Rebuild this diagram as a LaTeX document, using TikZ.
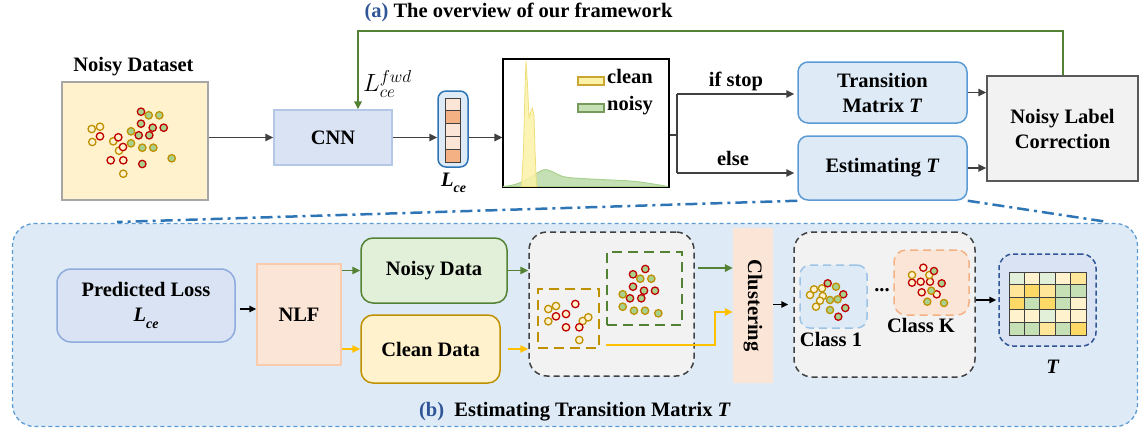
\documentclass[tikz,border=0pt]{standalone}
\usepackage{fontspec}
\setmainfont{Liberation Serif}
\usetikzlibrary{arrows.meta,calc}
\definecolor{cYellowL}{HTML}{FFF2CC}
\definecolor{cGold}{HTML}{BF9000}
\definecolor{cRed}{HTML}{C00000}
\definecolor{cGreenD}{HTML}{A9D18E}
\definecolor{cGreenM}{HTML}{C5E0B4}
\definecolor{cGreenL}{HTML}{E2F0D9}
\definecolor{cYellowM}{HTML}{FFE699}
\definecolor{cYellowD}{HTML}{FFD966}
\definecolor{cBlueL}{HTML}{DEEBF7}
\definecolor{cBlueG}{HTML}{DAE3F3}
\definecolor{cBlueB}{HTML}{5B9BD5}
\definecolor{cBlueD}{HTML}{2F5597}
\definecolor{cBlueM}{HTML}{2E75B6}
\definecolor{cBlueP}{HTML}{B4C7E7}
\definecolor{cBlueQ}{HTML}{8FAADC}
\definecolor{cBlueR}{HTML}{9DC3E6}
\definecolor{cOrangeL}{HTML}{FBE5D6}
\definecolor{cOrangeM}{HTML}{F8CBAD}
\definecolor{cOrangeD}{HTML}{F4B183}
\definecolor{cDark}{HTML}{404040}
\definecolor{cGrayD}{HTML}{595959}
\definecolor{cGrayM}{HTML}{A6A6A6}
\definecolor{cGray}{HTML}{F2F2F2}
\definecolor{cGreenDk}{HTML}{548235}
\definecolor{cAmber}{HTML}{FFC000}
\definecolor{cSpike}{HTML}{FBF2A8}
\definecolor{cSpikeB}{HTML}{EDE07A}
\definecolor{cLab}{HTML}{2F5597}
\newcommand\Lce{\textit{L}\raisebox{-0.3em}{\fontsize{14}{14}\selectfont\textit{ce}}}
\tikzset{
  every node/.style={font=\fontsize{20.5}{25}\selectfont\bfseries, inner sep=0pt, align=center},
  arr/.style={draw=cDark, line width=1.5pt, -{Triangle[length=8pt,width=7.5pt]}},
  garr/.style={draw=cGreenDk, line width=1.5pt, -{Triangle[length=8pt,width=7.5pt]}},
  yarr/.style={draw=cAmber, line width=1.5pt, -{Triangle[length=8pt,width=7.5pt]}},
  barr/.style={draw=black, line width=1.5pt, -{Triangle[length=7pt,width=6.5pt]}},
  dashdotline/.style={draw=cBlueM, line width=2.5pt, dash pattern=on 12pt off 5pt on 3pt off 5pt},
  yh/.style={fill=cYellowL, draw=cGold, line width=1.3pt},
  rh/.style={fill=cYellowL, draw=cRed, line width=1.3pt},
  gr/.style={fill=cGreenD, draw=cRed, line width=1.3pt},
  gy/.style={fill=cGreenD, draw=cGold, line width=1.3pt},
}
\begin{document}
\begin{tikzpicture}[x=1pt,y=-1pt]
\useasboundingbox (0,0) rectangle (1140,429);

% ---------- big bottom container ----------
\node[draw=cBlueB, fill=cBlueL, line width=1.3pt, dash pattern=on 4pt off 3pt, rounded corners=22pt,
      minimum width=1125pt, minimum height=203pt] (bb) at (575,325) {};

% ---------- title ----------
\node[anchor=base] (ttl) at (518.5,17) {\textcolor{cLab}{(a)} The overview of our framework};

% ---------- top row ----------
\node[anchor=base] (ndlab) at (133.5,71.5) {Noisy Dataset};
\node[fill=cYellowL, draw=cGrayM, line width=2pt, minimum width=146pt, minimum height=118pt] (nd) at (135,141) {};
\node[fill=cBlueG, draw=cBlueP, line width=1.5pt, minimum width=118pt, minimum height=55pt] (cnn) at (333,137.5) {CNN};
\node[fill=cBlueL, draw=cBlueM, line width=1.5pt, rounded corners=8pt, minimum width=30pt, minimum height=76pt] (lvec) at (453,129) {};
\foreach \c [count=\i] in {cOrangeL,cOrangeD,cOrangeL,cOrangeL,cOrangeD}
  \filldraw[fill=\c, draw=cDark, line width=1pt] (445,{98+(\i-1)*12.8}) rectangle ++(15,12.8);
\node[anchor=base] (lcelab) at (453.5,186.5) {\Lce};
\node[draw=black, line width=1.2pt, minimum width=166pt, minimum height=128pt] (plot) at (586,123) {};

% distributions
\filldraw[fill=cGreenM, draw=cGreenD, line width=1pt]
  plot[smooth, tension=0.6] coordinates {(503,186.5) (515,184.5) (528,179) (543,170) (553,172) (565,177) (590,179) (630,181) (650,183.5) (668,186.5)} -- cycle;
\filldraw[fill=cSpike, draw=cSpikeB, line width=0.8pt, fill opacity=0.85]
  (521.5,186.5) -- (523.5,150) -- (525,90) -- (526,61) -- (527.5,85) -- (529,117) -- (531,111) -- (532.5,108) -- (534,116) -- (535,150) -- (536.5,186.5) -- cycle;
\draw[black, line width=1.2pt] (plot.south west) -- (plot.south east);
% legend
\filldraw[fill=cSpike, draw=cGold!80, line width=1.3pt] (578,77) rectangle (604,85);
\filldraw[fill=cGreenM, draw=cGreenDk!80, line width=1.3pt] (578,104) rectangle (604,112);
\node[anchor=base west] (lgc) at (607,83.3) {clean};
\node[anchor=base west] (lgn) at (607,110) {noisy};

\node[fill=cBlueL, draw=cBlueB, line width=1.5pt, rounded corners=10pt, minimum width=169pt, minimum height=61pt] (tm) at (882.5,92.5) {Transition\\Matrix \textit{T}};
\node[fill=cBlueL, draw=cBlueB, line width=1.5pt, rounded corners=10pt, minimum width=169pt, minimum height=64pt] (est) at (882.5,168) {Estimating \textit{T}};
\node[fill=cGray, draw=cGrayD, line width=1.5pt, minimum width=151pt, minimum height=105pt] (nlc) at (1062.5,128.5) {Noisy Label\\Correction};

\node[anchor=base] (ifs) at (736,86) {if stop};
\node[anchor=base] (els) at (733,165) {else};
\node[anchor=base west, font=\fontsize{23}{23}\selectfont] (lfwd) at (363,91.5) {$L_{ce}^{fwd}$};

% top connectors
\draw[arr] (nd.east |- cnn.west) -- (cnn.west);
\draw[arr] (cnn.east) -- (lvec.west |- cnn.east);
\draw[arr] (lvec.east |- cnn.east) -- (plot.west |- cnn.east);
\coordinate (br) at (677,135);
\coordinate (brT) at (677,94);
\coordinate (brB) at (677,173);
\draw[draw=cDark, line width=1.5pt] (plot.east |- br) -- (br);
\draw[draw=cDark, line width=1.5pt] (brT) -- (brB);
\draw[arr] (brT) -- ($(tm.west |- brT)+(-3,0)$);
\draw[arr] (brB) -- ($(est.west |- brB)+(-3,0)$);
\draw[arr] (tm.east) -- (nlc.west |- tm.east);
\draw[arr] (est.east) -- (nlc.west |- est.east);
\draw[draw=cGreenDk, line width=2pt, -{Triangle[length=8pt,width=7.5pt]}]
  (nlc.north) |- ($(cnn.north)+(25,-78)$) -- ($(cnn.north)+(25,0)$);

% dash-dot zoom lines
\coordinate (ddL) at (117,222);
\coordinate (ddR) at (1108,222);
\draw[dashdotline] (est.south west) -- (ddL);
\draw[dashdotline] (est.south east) -- (ddR);

% dataset points
\foreach \x/\y in {91.7/129,100/126.7,92.3/142,113.3/141.3,119/150.7,123.3/173.7} \filldraw[yh] (\x,\y) circle (3.7);
\foreach \x/\y in {100/136.3,118.3/137.3,123/147,110.7/160.3,123.3/160.3} \filldraw[rh] (\x,\y) circle (3.7);
\foreach \x/\y in {141/111.7,141/123.7,152.7/127.7,163.7/127.7,138.7/135.3,149.3/135.3,142.3/164} \filldraw[gr] (\x,\y) circle (3.7);
\foreach \x/\y in {148.7/115.3,159.3/115.3,131/131.3,131/143.3,142.3/147.7,153.3/147.7,171.7/158.3} \filldraw[gy] (\x,\y) circle (3.7);

% ---------- bottom row ----------
\node[fill=cBlueG, draw=cBlueQ, line width=1.5pt, rounded corners=14pt, minimum width=178pt, minimum height=73pt] (pl) at (146,305.5) {Predicted Loss\\\Lce};
\node[fill=cOrangeL, draw=cOrangeM, line width=1.5pt, minimum width=84pt, minimum height=101pt] (nlf) at (299,314.5) {NLF};
\node[fill=cGreenL, draw=cGreenDk, line width=1.5pt, rounded corners=12pt, minimum width=146pt, minimum height=65pt] (noisyd) at (434,270.5) {Noisy Data};
\node[fill=cYellowL, draw=cGold, line width=1.5pt, rounded corners=12pt, minimum width=139pt, minimum height=68pt] (cleand) at (430.5,349) {Clean Data};
\node[fill=cGray, draw=cDark, line width=1.5pt, dash pattern=on 6pt off 4pt, rounded corners=18pt, minimum width=165pt, minimum height=144pt] (sc) at (611.5,304) {};
\node[draw=cGreenDk, line width=2pt, dash pattern=on 10pt off 6pt, minimum width=75pt, minimum height=73pt] (gbox) at (644.5,288.5) {};
\node[draw=cGold, line width=2pt, dash pattern=on 10pt off 6pt, minimum width=61pt, minimum height=59pt] (ybox) at (568.5,318.5) {};
\node[fill=cOrangeL, minimum width=40pt, minimum height=155pt] (clu) at (753,305.5) {\rotatebox{-90}{Clustering}};
\node[fill=cGray, draw=cDark, line width=1.5pt, dash pattern=on 6pt off 4pt, rounded corners=18pt, minimum width=181pt, minimum height=145pt] (cls) at (884.5,304.5) {};
\node[fill=cBlueL, draw=cBlueR, line width=1.5pt, dash pattern=on 8pt off 5pt, rounded corners=10pt, minimum width=67pt, minimum height=63pt] (c1) at (833.5,296.5) {};
\node[fill=cOrangeL, draw=cOrangeD, line width=1.5pt, dash pattern=on 8pt off 5pt, rounded corners=12pt, minimum width=75pt, minimum height=65pt] (ck) at (931.5,282.5) {};
\node[fill=cBlueG, draw=cBlueD, line width=1.5pt, dash pattern=on 5pt off 3pt, rounded corners=14pt, minimum width=97pt, minimum height=92pt] (tmat) at (1047.5,300) {};

\node[anchor=base] (c1lab) at (831,346.5) {Class 1};
\node[anchor=base] (cklab) at (921,332.5) {Class K};
\node[anchor=base] (dots) at (882,291) {...};
\node[anchor=base] (tlab) at (1053,373) {\textit{T}};
\node[anchor=base] (btl) at (575,416) {\textcolor{cLab}{(b)}\enspace Estimating Transition Matrix \textit{T}};

% matrix grid
\foreach \rowc [count=\r] in {{cGreenL,cYellowL,cGreenL,cYellowL,cYellowM},{cYellowM,cYellowD,cYellowM,cGreenM,cGreenM},{cYellowD,cGreenM,cYellowD,cGreenM,cYellowL},{cYellowL,cYellowL,cGreenL,cYellowL,cYellowL},{cGreenM,cGreenM,cYellowM,cGreenM,cYellowD}}
  \foreach \c [count=\k] in \rowc
    \filldraw[fill=\c, draw=cDark, line width=1pt] ({1009+(\k-1)*15.4},{272+(\r-1)*12.6}) rectangle ++(15.4,12.6);

% scatter points in box
\foreach \x/\y in {548.3/309,556/306,548.3/321.3,582.7/321,588.3/317.3,579.3/340} \filldraw[yh] (\x,\y) circle (3.7);
\foreach \x/\y in {575.3/304,556/316.3,566/314,566/327.3,579.3/327.3} \filldraw[rh] (\x,\y) circle (3.7);
\foreach \x/\y in {645.3/269,633/274.3,633/286.7,644/290.7,655/290.7,630/298.3,641.3/298.3} \filldraw[gr] (\x,\y) circle (3.7);
\foreach \x/\y in {640.3/278.7,651.3/278.7,622.7/294.3,622.7/306.7,634/310.7,645/310.7,658.3/313.3} \filldraw[gy] (\x,\y) circle (3.7);
% class 1
\foreach \x/\y in {810/295,814/289.3,822/288.3,822.7/296,820/300.7,816/306.7} \filldraw[yh] (\x,\y) circle (3.6);
\foreach \x/\y in {827.7/283.3,843.3/294.3,845.3/308,838.3/316.7} \filldraw[gr] (\x,\y) circle (3.6);
\foreach \x/\y in {836/286.7,830/300,837.7/299.3,830/310} \filldraw[gy] (\x,\y) circle (3.6);
% class K
\foreach \x/\y in {923.3/267.7,912/282.7,920.7/281.7,930/281.7,921.7/292.3,936.7/294.3} \filldraw[rh] (\x,\y) circle (3.6);
\foreach \x/\y in {912/275,929.3/275} \filldraw[yh] (\x,\y) circle (3.6);
\foreach \x/\y in {934/271,941.7/283.3} \filldraw[gr] (\x,\y) circle (3.6);
\foreach \x/\y in {931.3/290.7,927.3/301.7,944/303} \filldraw[gy] (\x,\y) circle (3.6);

% bottom connectors
\draw[barr] ($(pl.east)+(4,3.5)$) -- ($(nlf.west |- pl.east)+(0,3.5)$);
\draw[garr] (nlf.east |- noisyd.west) -- (noisyd.west);
\draw[yarr] (nlf.east |- cleand.west) -- (cleand.west);
\draw[garr] (noisyd.east) -- (sc.west |- noisyd.east);
\draw[yarr] ($(cleand.east)+(7,0)$) -- (sc.west |- cleand.east);
\coordinate (g1) at (698,268);
\draw[garr] (g1) -- (clu.west |- g1);
\coordinate (y1) at ($(ybox.south east)+(6,-4)$);
\coordinate (y2) at (715,312);
\draw[yarr] (y1) -| (y2) -- (clu.west |- y2);
\draw[barr] (clu.east |- cls.west) -- ($(cls.west)+(-5,0)$);
\draw[barr] (cls.east |- tmat.west) -- ($(tmat.west)+(-2,0)$);
\end{tikzpicture}
\end{document}
